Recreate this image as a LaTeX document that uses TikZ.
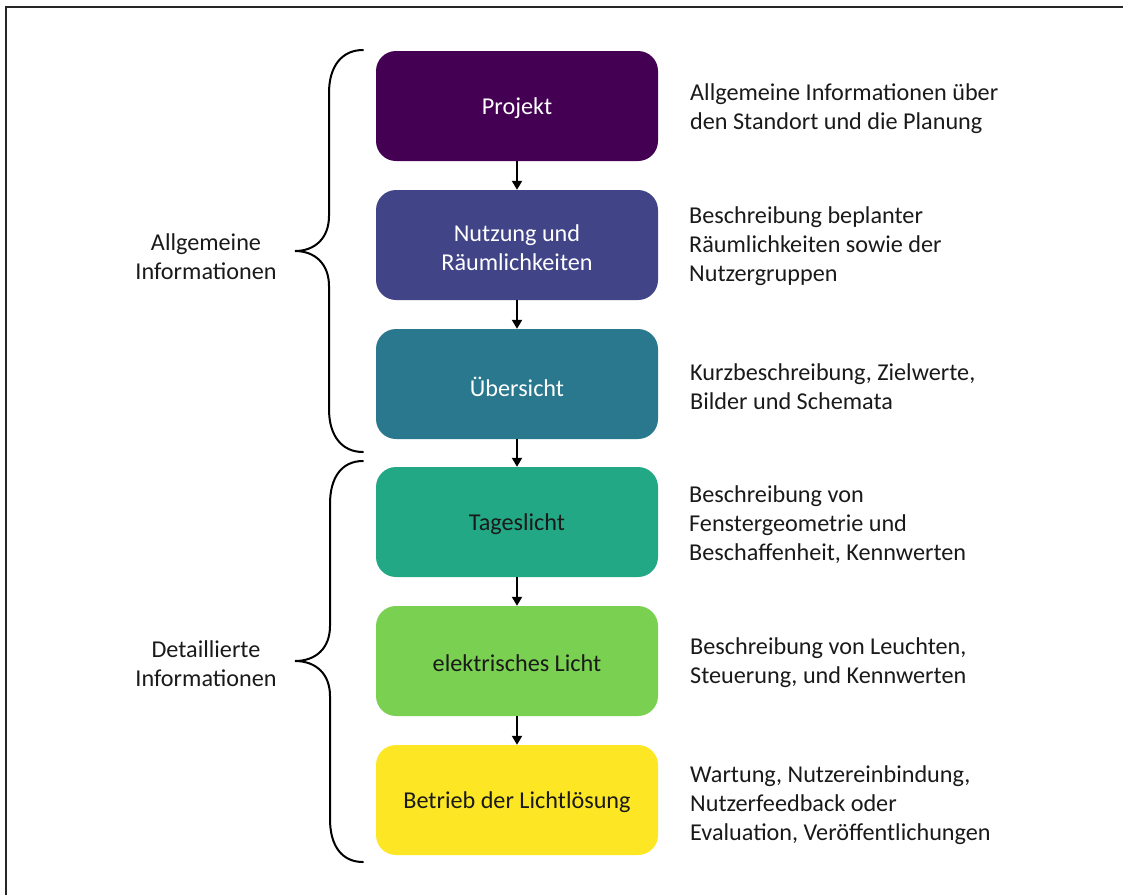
\documentclass[tikz,border=0pt]{standalone}
\usepackage{fontspec}
\setmainfont{Carlito}
\usetikzlibrary{arrows.meta}

\definecolor{vA}{HTML}{440154}
\definecolor{vB}{HTML}{414487}
\definecolor{vC}{HTML}{2A788E}
\definecolor{vD}{HTML}{22A884}
\definecolor{vE}{HTML}{7AD151}
\definecolor{vF}{HTML}{FDE725}
\definecolor{ink}{HTML}{1A1A1A}

\begin{document}
\begin{tikzpicture}[x=1pt,y=-1pt,
  txt/.style={font=\fontsize{24.2}{29}\selectfont, text=ink},
  stage/.style={rounded corners=20pt, minimum width=282pt, minimum height=110pt,
    inner sep=0pt},
  lbl/.style={txt, align=center, inner sep=0pt, yshift=-2.5pt},
  note/.style={txt, anchor=west, align=left, inner sep=0pt},
  group/.style={txt, align=center, inner sep=0pt},
  flow/.style={-{Triangle[length=9pt,width=10pt]}, line width=2pt, black},
  brace/.style={line width=2pt, black, line cap=round}]

\useasboundingbox (0,0) rectangle (1132,895);

% frame
\draw[line width=2pt, black!85] (6,895) -- (6,7) -- (1123,7);

% stages
\node[stage, fill=vA, label={[lbl, text=white]center:Projekt}] (p1) at (517,106) {};
\node[stage, fill=vB, label={[lbl, text=white]center:{Nutzung und\\Räumlichkeiten}}] (p2) at (517,245) {};
\node[stage, fill=vC, label={[lbl, text=white]center:Übersicht}] (p3) at (517,384) {};
\node[stage, fill=vD, label={[lbl]center:Tageslicht}] (p4) at (517,522) {};
\node[stage, fill=vE, label={[lbl]center:elektrisches Licht}] (p5) at (517,661) {};
\node[stage, fill=vF, label={[lbl]center:Betrieb der Lichtlösung}] (p6) at (517,800) {};

% flow arrows
\draw[flow] (p1) -- (p2);
\draw[flow] (p2) -- (p3);
\draw[flow] (p3) -- (p4);
\draw[flow] (p4) -- (p5);
\draw[flow] (p5) -- (p6);

% descriptions
\node[note] (d1) at (690,109) {Allgemeine Informationen über\\den Standort und die Planung};
\node[note] (d2) at (689,246) {Beschreibung beplanter\\Räumlichkeiten sowie der\\Nutzergruppen};
\node[note] (d3) at (690,387) {Kurzbeschreibung, Zielwerte,\\Bilder und Schemata};
\node[note] (d4) at (689,525) {Beschreibung von\\Fenstergeometrie und\\Beschaffenheit, Kennwerten};
\node[note] (d5) at (690,663) {Beschreibung von Leuchten,\\Steuerung, und Kennwerten};
\node[note] (d6) at (690,805) {Wartung, Nutzereinbindung,\\Nutzerfeedback oder\\Evaluation, Veröffentlichungen};

% braces
\draw[brace] (363,50) .. controls (342,50) and (329,66) .. (329,93)
  -- (329,216) .. controls (329,238) and (315,251) .. (295,251)
  .. controls (315,251) and (329,264) .. (329,286)
  -- (329,409) .. controls (329,436) and (342,452) .. (363,452);
\draw[brace] (363,461) .. controls (342,461) and (330,477) .. (330,504)
  -- (330,626) .. controls (330,648) and (316,661) .. (295,661)
  .. controls (316,661) and (330,674) .. (330,696)
  -- (330,819) .. controls (330,846) and (342,862) .. (363,862);

% group labels
\node[group] (g1) at (206,257) {Allgemeine\\Informationen};
\node[group] (g2) at (206,664) {Detaillierte\\Informationen};

\end{tikzpicture}
\end{document}
